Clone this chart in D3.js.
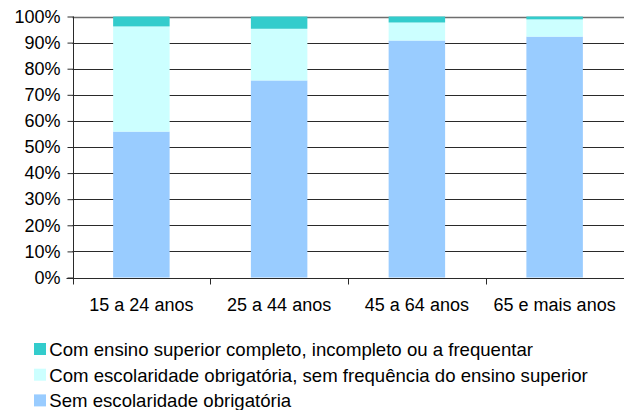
<!DOCTYPE html>
<html>
<head>
<meta charset="utf-8">
<script src="https://cdn.jsdelivr.net/npm/d3@7/dist/d3.min.js"></script>
<style>
  html, body { margin: 0; padding: 0; background: #fff; }
  svg { display: block; }
  text { font-family: "Liberation Sans", Arial, sans-serif; fill: #000; }
</style>
</head>
<body>
<svg id="chart" width="624" height="410"></svg>
<script>
// Age groups on the x axis
const categories = ["15 a 24 anos", "25 a 44 anos", "45 a 64 anos", "65 e mais anos"];

// Share of each schooling level per age group (%), bottom to top of the stack
const semEscolaridade = [55.9, 75.5, 90.8, 92.3];
const comEscolaridade = [40.3, 19.8, 6.9, 6.6];
const comSuperior     = [3.8, 4.7, 2.3, 1.1];

// Series names, stacking order (bottom first)
const seriesNames = [
  "Sem escolaridade obrigatória",
  "Com escolaridade obrigatória, sem frequência do ensino superior",
  "Com ensino superior completo, incompleto ou a frequentar"
];
const seriesColors = ["#99ccff", "#ccffff", "#33cccc"];

// Y tick values and their labels
const yTicks = [0, 10, 20, 30, 40, 50, 60, 70, 80, 90, 100];
const yTickLabels = ["0%", "10%", "20%", "30%", "40%", "50%", "60%", "70%", "80%", "90%", "100%"];

const svg = d3.select("#chart");
const plot = { left: 72.5, right: 623.5, top: 16.5, bottom: 277.5 };

const x = d3.scaleBand()
  .domain(categories)
  .range([plot.left, plot.right])
  .paddingInner(0.59)
  .paddingOuter(0.295);

const xBoundary = d3.scaleBand()
  .domain(categories)
  .range([plot.left, plot.right]);

const y = d3.scaleLinear().domain([0, 100]).range([plot.bottom, plot.top]);

// Build the stacked table
const table = categories.map((c, i) => ({
  cat: c,
  [seriesNames[0]]: semEscolaridade[i],
  [seriesNames[1]]: comEscolaridade[i],
  [seriesNames[2]]: comSuperior[i]
}));
const stacked = d3.stack().keys(seriesNames)(table);

// Horizontal gridlines
svg.append("g")
  .selectAll("line")
  .data(yTicks.filter(t => t > 0))
  .join("line")
  .attr("x1", plot.left)
  .attr("x2", plot.right + 0.5)
  .attr("y1", d => Math.round(y(d)) + 0.5)
  .attr("y2", d => Math.round(y(d)) + 0.5)
  .attr("stroke", d => d === 100 ? "#6e6e6e" : "#2a2a2a")
  .attr("stroke-width", d => d === 100 ? 1.6 : 1);

// Bars
svg.append("g")
  .selectAll("g")
  .data(stacked)
  .join("g")
  .attr("fill", (d, i) => seriesColors[i])
  .selectAll("rect")
  .data(d => d)
  .join("rect")
  .attr("x", d => x(d.data.cat))
  .attr("width", x.bandwidth())
  .attr("y", d => y(d[1]))
  .attr("height", d => y(d[0]) - y(d[1]));

// Y axis
const yAxis = d3.axisLeft(y)
  .tickValues(yTicks)
  .tickFormat((d, i) => yTickLabels[i])
  .tickSize(6)
  .tickPadding(7);

const gy = svg.append("g")
  .attr("transform", `translate(${Math.round(plot.left) + 0.5},0)`)
  .call(yAxis);
gy.select(".domain").attr("stroke", "#2a2a2a").attr("d", `M0,${plot.top}V${plot.bottom + 0.5}`);
gy.selectAll(".tick line").attr("stroke", "#2a2a2a");
gy.selectAll(".tick text")
  .style("font-family", "'Liberation Sans', Arial, sans-serif")
  .style("font-size", "18px")
  .attr("fill", "#000");

// X axis with ticks at category boundaries
const gx = svg.append("g")
  .attr("transform", `translate(0,${Math.round(plot.bottom) + 0.5})`);
gx.append("line")
  .attr("x1", plot.left - 6)
  .attr("x2", plot.right + 0.5)
  .attr("stroke", "#2a2a2a");
gx.selectAll("line.tk")
  .data(categories)
  .join("line")
  .attr("class", "tk")
  .attr("x1", d => Math.round(xBoundary(d)) + 0.5)
  .attr("x2", d => Math.round(xBoundary(d)) + 0.5)
  .attr("y1", 0)
  .attr("y2", 6)
  .attr("stroke", "#2a2a2a");
gx.selectAll("text")
  .data(categories)
  .join("text")
  .attr("x", d => x(d) + x.bandwidth() / 2)
  .attr("y", 32.5)
  .attr("text-anchor", "middle")
  .style("font-size", "18px")
  .text(d => d);

// Legend (top entry is the top of the stack)
const legendOrder = [2, 1, 0];
const legend = svg.append("g");
legendOrder.forEach((si, row) => {
  const g = legend.append("g").attr("transform", `translate(34,${343 + row * 25.7})`);
  g.append("rect").attr("width", 12).attr("height", 12).attr("fill", seriesColors[si]);
  g.append("text")
    .attr("x", 15.3)
    .attr("y", 12.8)
    .style("font-size", "18.6px")
    .text(seriesNames[si]);
});
</script>
</body>
</html>
